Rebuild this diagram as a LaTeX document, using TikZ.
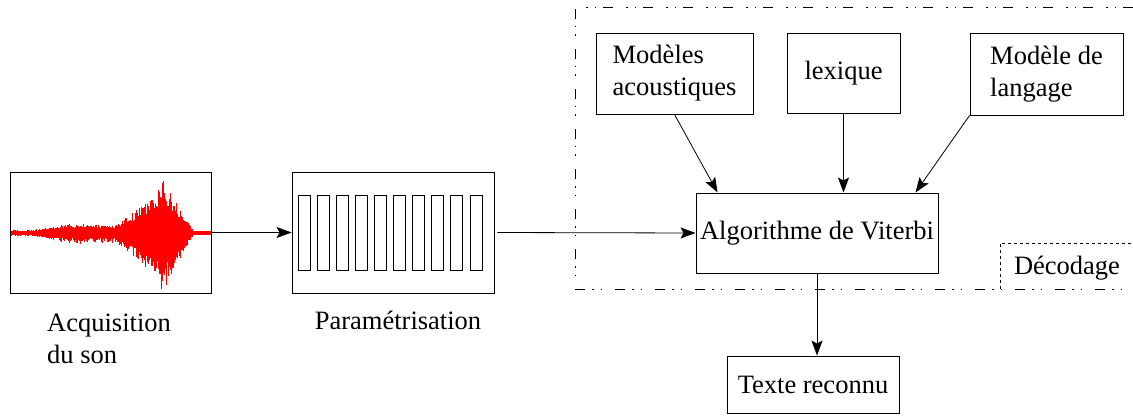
\documentclass[tikz,border=0pt]{standalone}
\usepackage{fontspec}
\setmainfont{Liberation Serif}
\usetikzlibrary{arrows.meta,calc}
\begin{document}
\begin{tikzpicture}[x=1pt,y=-1pt,
  box/.style={draw,line width=0.9pt,inner sep=0pt,font=\fontsize{26.5}{32}\selectfont},
  lbl/.style={inner sep=0pt,font=\fontsize{26.5}{32}\selectfont},
  arr/.style={line width=0.8pt,-{Stealth[length=15pt,width=11pt,inset=3pt]}},
  bar/.style={draw,line width=0.8pt},
  outer/.style={line width=0.8pt,dash pattern=on 10pt off 7pt on 1.5pt off 7pt on 1.5pt off 13pt},
  inner/.style={line width=0.7pt,dash pattern=on 3pt off 3pt}]
\useasboundingbox (0,0) rectangle (1133,417);
% waveform
\pgfmathsetseed{11}
\draw[red,line width=3.5pt] (10,233) -- (211,233);
\foreach \x in {10,11,...,210} {
  \pgfmathsetmacro\A{\x<30 ? 3 : (\x<60 ? 3+4*(\x-30)/30 : (\x<115 ? 7+3*rnd : (\x<135 ? 9+13*(\x-115)/20 : (\x<160 ? 22+23*(\x-135)/25 : (\x<167 ? 52 : (\x<185 ? 45-30*(\x-167)/18 : (\x<193 ? 15-12*(\x-185)/8 : 2)))))))}
  \pgfmathsetmacro\t{233-\A*(0.6+0.4*rnd)}
  \pgfmathsetmacro\b{233+\A*(0.65+0.45*rnd)}
  \draw[red,line width=1.3pt] (\x+0.5,\t) -- (\x+0.5,\b);
}
\node[box,minimum width=201pt,minimum height=121pt] (wave) at (110.5,232.5) {};
% parametrisation
\node[box,minimum width=202pt,minimum height=121pt] (param) at (393,232.5) {};
\foreach \i in {0,...,9} {
  \draw[bar] ({298+\i*19.1},195) rectangle ({310+\i*19.1},270);
}
% decoding
\node[box,minimum width=242pt,minimum height=80pt] (vit) at (817,233) {Algorithme de Viterbi};
\node[box,minimum width=157pt,minimum height=81pt,align=left] (ac) at (674.5,73.5) {Modèles\\acoustiques};
\node[box,minimum width=113pt,minimum height=80pt] (lex) at (843.5,73) {lexique};
\node[box,minimum width=153pt,minimum height=82pt,align=left] (lang) at (1046.5,74) {Modèle de\\langage};
\node[box,minimum width=172pt,minimum height=57pt] (txt) at (813,384.5) {Texte reconnu};
% labels
\node[lbl,anchor=base west] (acq1) at (47,331) {Acquisition};
\node[lbl,anchor=base west] (acq2) at (47,363) {du son};
\node[lbl,anchor=base] (par) at (398,329) {Paramétrisation};
\node[lbl] (dec) at (1067,268) {Décodage};
% region
\draw[outer] (1133,7) -- (575,7) -- (575,289) -- (1133,289);
\draw[inner] (1000,289) -- (1000,243) -- (1133,243);
% arrows
\draw[arr] (wave.east) -- (param.west);
\draw[arr,shorten <=3pt] (param.east) -- (vit.west);
\draw[arr] (ac.south) -- ($(vit.north west)+(22,0)$);
\draw[arr] (lex.south) -- (lex.south |- vit.north);
\draw[arr] (lang.south west) -- ($(vit.north east)+(-23,0)$);
\draw[arr] (vit.south) -- (vit.south |- txt.north);
\end{tikzpicture}
\end{document}
